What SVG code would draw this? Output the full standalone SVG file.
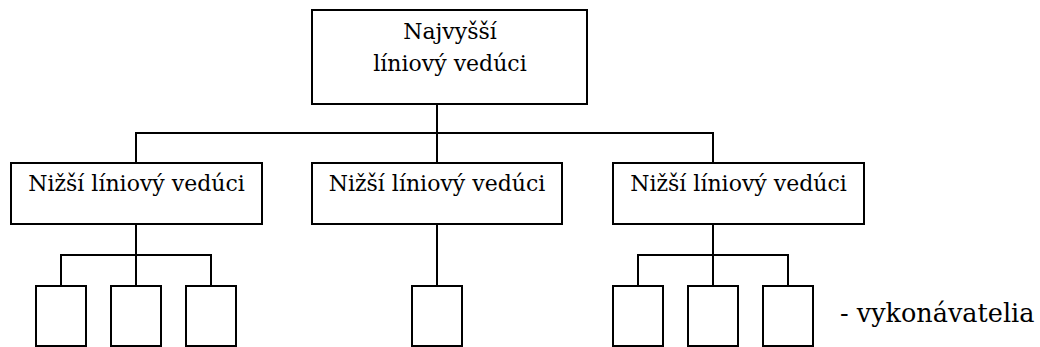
<svg xmlns="http://www.w3.org/2000/svg" width="1040" height="347" viewBox="0 0 1040 347">
  <style>
    .box { fill: #ffffff; stroke: #000000; stroke-width: 2; }
    .wire { fill: none; stroke: #000000; stroke-width: 2; stroke-linecap: square; }
    .lbl { font-family: 'DejaVu Serif', serif; font-size: 22px; fill: #000000; text-anchor: middle; }
    .note { font-family: 'DejaVu Serif', serif; font-size: 25.5px; fill: #000000; }
  </style>

  <!-- connectors -->
  <g id="connectors" class="wire">
    <!-- top manager to middle level -->
    <path d="M437 104 V133"/>
    <path d="M136 133 H713"/>
    <path d="M136 133 V163"/>
    <path d="M437 133 V163"/>
    <path d="M713 133 V163"/>
    <!-- left manager to workers -->
    <path d="M136 224 V255"/>
    <path d="M61 255 H211"/>
    <path d="M61 255 V286"/>
    <path d="M136 255 V286"/>
    <path d="M211 255 V286"/>
    <!-- middle manager to worker -->
    <path d="M437 224 V286"/>
    <!-- right manager to workers -->
    <path d="M713 224 V255"/>
    <path d="M638 255 H788"/>
    <path d="M638 255 V286"/>
    <path d="M713 255 V286"/>
    <path d="M788 255 V286"/>
  </g>

  <!-- top-level manager -->
  <g id="top-manager">
    <rect class="box" x="312" y="10" width="275" height="94"/>
    <text class="lbl" x="450" y="39">Najvyšší</text>
    <text class="lbl" x="450" y="71">líniový vedúci</text>
  </g>

  <!-- lower-level managers -->
  <g id="manager-left">
    <rect class="box" x="11" y="163" width="251" height="61"/>
    <text class="lbl" x="136.5" y="191">Nižší líniový vedúci</text>
  </g>
  <g id="manager-middle">
    <rect class="box" x="312" y="163" width="250" height="61"/>
    <text class="lbl" x="437" y="191">Nižší líniový vedúci</text>
  </g>
  <g id="manager-right">
    <rect class="box" x="613" y="163" width="251" height="61"/>
    <text class="lbl" x="738.5" y="191">Nižší líniový vedúci</text>
  </g>

  <!-- workers -->
  <g id="worker-l1"><rect class="box" x="36" y="286" width="50" height="60"/></g>
  <g id="worker-l2"><rect class="box" x="111" y="286" width="50" height="60"/></g>
  <g id="worker-l3"><rect class="box" x="186" y="286" width="50" height="60"/></g>
  <g id="worker-m1"><rect class="box" x="412" y="286" width="50" height="60"/></g>
  <g id="worker-r1"><rect class="box" x="613" y="286" width="50" height="60"/></g>
  <g id="worker-r2"><rect class="box" x="688" y="286" width="50" height="60"/></g>
  <g id="worker-r3"><rect class="box" x="763" y="286" width="50" height="60"/></g>

  <!-- legend for the bottom row -->
  <g id="legend">
    <text class="note" x="840" y="322">- vykonávatelia</text>
  </g>
</svg>
